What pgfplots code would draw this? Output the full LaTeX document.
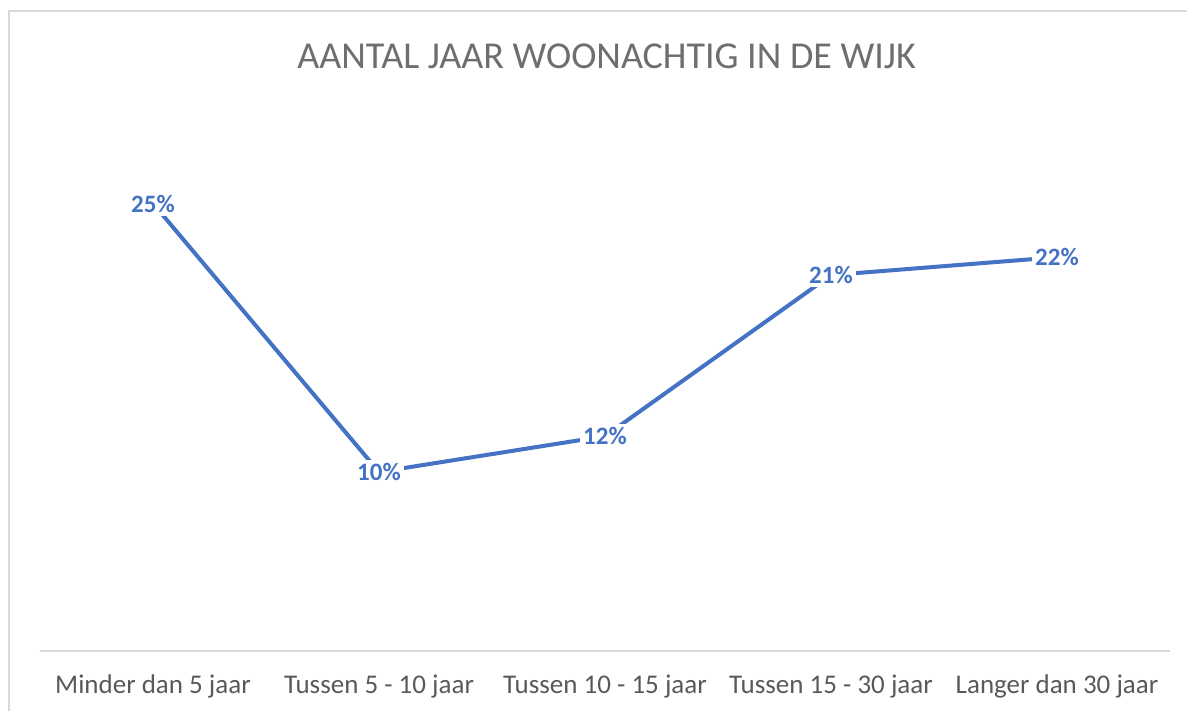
\documentclass[border=0pt]{standalone}
\usepackage{pgfplots}
\pgfplotsset{compat=1.18}
\usepackage{fontspec}
\setmainfont{Carlito}
\definecolor{exblue}{HTML}{4472C4}
\definecolor{txtgray}{HTML}{595959}
\definecolor{titlegray}{HTML}{6E6E6E}
\definecolor{bordergray}{HTML}{D9D9D9}
\begin{document}
\begin{tikzpicture}
\useasboundingbox (0,0) rectangle (593.5pt,355.5pt);
\draw[bordergray, line width=0.8pt] (4.5pt,-5pt) -- (4.5pt,350pt) -- (600pt,350pt);
\node[font=\fontsize{19}{22}\selectfont, text=titlegray, anchor=base] at (303.25pt,321pt) {AANTAL JAAR WOONACHTIG IN DE WIJK};
\begin{axis}[
  at={(20pt,30pt)}, anchor=south west,
  scale only axis, width=565pt, height=268.5pt,
  xmin=-0.5, xmax=4.5, ymin=0, ymax=0.3,
  axis y line=none,
  axis x line=bottom,
  x axis line style={-, draw=bordergray, line width=1pt},
  xtick={0,1,2,3,4},
  xticklabels={Minder dan 5 jaar, Tussen 5 - 10 jaar, Tussen 10 - 15 jaar, Tussen 15 - 30 jaar, Langer dan 30 jaar},
  major tick length=0pt,
  xticklabel style={font=\fontsize{13.5}{16}\selectfont, text=txtgray, anchor=base, yshift=-21.5pt},
  ytick=\empty,
  clip=false,
  point meta=explicit symbolic,
  nodes near coords,
  every node near coord/.append style={anchor=center, fill=white, inner sep=1.8pt, font=\bfseries\fontsize{12.5}{15}\selectfont, text=exblue},
]
\addplot[exblue, line width=2pt, mark=none] coordinates {
  (0,0.25) [25\%]
  (1,0.10) [10\%]
  (2,0.12) [12\%]
  (3,0.21) [21\%]
  (4,0.22) [22\%]
};
\end{axis}
\end{tikzpicture}
\end{document}
